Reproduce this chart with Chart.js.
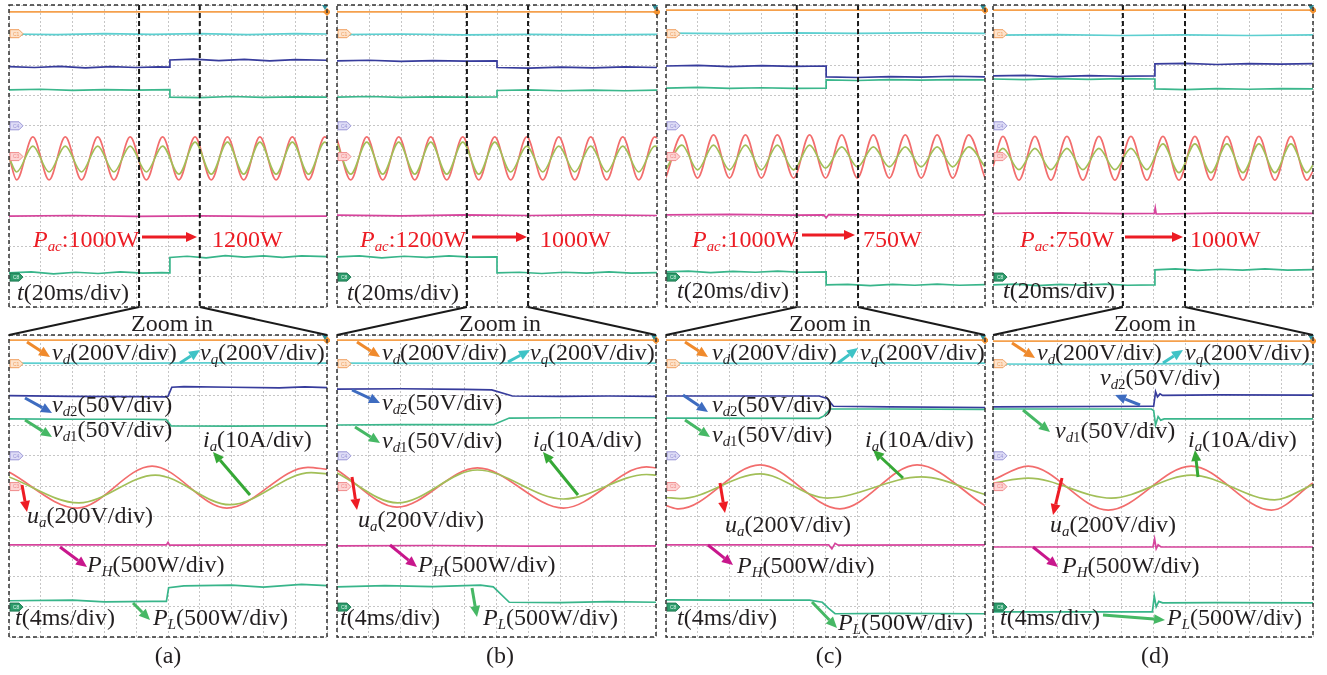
<!DOCTYPE html>
<html>
<head>
<meta charset="utf-8">
<script src="https://cdn.jsdelivr.net/npm/chart.js@4.4.1/dist/chart.umd.min.js"></script>
<style>
  html, body { margin: 0; padding: 0; background: #fff; }
  #page { position: relative; width: 1327px; height: 675px; overflow: hidden;
          font-family: "Liberation Serif", "Times New Roman", serif; color: #231f20; }
  .panel { position: absolute; }
  #overlay { position: absolute; left: 0; top: 0; pointer-events: none; }
  .lbl { position: absolute; font-size: 24px; line-height: 24px; white-space: nowrap; }
  .lbl sub { font-size: 0.62em; line-height: 0; vertical-align: -0.3em; }
  .red { color: #ec1c24; }
  .mid { transform: translateX(-50%); }
</style>
</head>
<body>
<div id="page"></div>
<script>
// ---- waveform data, x and y in scope divisions (0..10) ----
// top row, 20ms/div
const topA_vd = [[0,9.77],[10,9.77]];
const topA_vq = [[0,9.04],[1.5,9.02],[3,9.05],[4.5,9.03],[6,9.05],[7.5,9.02],[9,9.05],[10,9.04]];
const topA_vd2 = [[0,7.96],[0.8,7.93],[1.6,7.97],[2.4,7.92],[3.2,7.96],[4,7.93],[4.7,7.95],[5.06,7.94],[5.06,8.18],[5.8,8.21],[6.6,8.16],[7.4,8.2],[8.2,8.15],[9,8.19],[10,8.17]];
const topA_vd1 = [[0,7.19],[1,7.21],[2,7.17],[3,7.2],[4,7.18],[5.06,7.2],[5.06,6.95],[6,6.93],[7,6.97],[8,6.94],[9,6.96],[10,6.95]];
const topA_ua = [[0,5.0],[0.24,4.21],[0.75,5.63],[1.26,4.21],[1.77,5.63],[2.28,4.21],[2.79,5.63],[3.3,4.21],[3.81,5.63],[4.32,4.21],[4.83,5.63],[5.34,4.21],[5.85,5.63],[6.36,4.21],[6.87,5.63],[7.38,4.21],[7.89,5.63],[8.4,4.21],[8.91,5.63],[9.42,4.21],[9.93,5.63],[10,5.6]];
const topA_ia = [[0,4.95],[0.24,4.47],[0.75,5.33],[1.26,4.47],[1.77,5.33],[2.28,4.47],[2.79,5.33],[3.3,4.47],[3.81,5.33],[4.32,4.47],[4.83,5.33],[5.34,4.4],[5.85,5.46],[6.36,4.4],[6.87,5.46],[7.38,4.4],[7.89,5.46],[8.4,4.4],[8.91,5.46],[9.42,4.4],[9.93,5.46],[10,5.43]];
const topA_ph = [[0,3.01],[2,3.03],[4,3.0],[6,3.02],[8,3.0],[10,3.01]];
const topA_pl = [[0,1.13],[0.7,1.16],[1.4,1.1],[2.1,1.15],[2.8,1.11],[3.5,1.16],[4.2,1.12],[4.8,1.14],[5.06,1.13],[5.06,1.64],[5.6,1.68],[6.2,1.63],[6.8,1.7],[7.4,1.65],[8,1.69],[8.6,1.64],[9.2,1.69],[10,1.67]];

const topB_vd = [[0,9.77],[10,9.77]];
const topB_vq = [[0,9.02],[2,9.04],[4,9.01],[6,9.03],[8,9.01],[10,9.03]];
const topB_vd2 = [[0,8.15],[1,8.17],[2,8.13],[3,8.16],[4,8.14],[5,8.15],[5,7.93],[6,7.91],[7,7.94],[8,7.92],[9,7.95],[10,7.93]];
const topB_vd1 = [[0,6.95],[1,6.97],[2,6.94],[3,6.96],[4,6.95],[5,6.96],[5,7.17],[6,7.19],[7,7.16],[8,7.18],[9,7.16],[10,7.18]];
const topB_ua = [[0,5.55],[0.43,4.21],[0.93,5.63],[1.43,4.21],[1.93,5.63],[2.43,4.21],[2.93,5.63],[3.43,4.21],[3.93,5.63],[4.43,4.21],[4.93,5.63],[5.43,4.21],[5.93,5.63],[6.43,4.21],[6.93,5.63],[7.43,4.21],[7.93,5.63],[8.43,4.21],[8.93,5.63],[9.43,4.21],[9.93,5.63],[10,5.6]];
const topB_ia = [[0,5.4],[0.43,4.4],[0.93,5.46],[1.43,4.4],[1.93,5.46],[2.43,4.4],[2.93,5.46],[3.43,4.4],[3.93,5.46],[4.43,4.4],[4.93,5.46],[5.43,4.47],[5.93,5.33],[6.43,4.47],[6.93,5.33],[7.43,4.47],[7.93,5.33],[8.43,4.47],[8.93,5.33],[9.43,4.47],[9.93,5.33],[10,5.31]];
const topB_ph = [[0,3.04],[2,3.02],[4,3.05],[6,3.03],[8,3.05],[10,3.03]];
const topB_pl = [[0,1.66],[0.7,1.69],[1.4,1.63],[2.1,1.68],[2.8,1.64],[3.5,1.69],[4.2,1.65],[5,1.66],[5,1.13],[5.7,1.15],[6.4,1.11],[7.1,1.15],[7.8,1.12],[8.5,1.16],[9.2,1.12],[10,1.14]];

const topC_vd = [[0,9.83],[10,9.83]];
const topC_vq = [[0,9.07],[2,9.05],[4,9.08],[6,9.06],[8,9.08],[10,9.06]];
const topC_vd2 = [[0,7.98],[1,8.0],[2,7.96],[3,7.99],[4,7.97],[5.02,7.98],[5.02,7.62],[6,7.6],[7,7.63],[8,7.61],[9,7.64],[10,7.62]];
const topC_vd1 = [[0,7.25],[1,7.27],[2,7.24],[3,7.26],[4,7.24],[5.02,7.25],[5.02,7.52],[6,7.5],[7,7.53],[8,7.51],[9,7.53],[10,7.52]];
const topC_ua = [[0,4.3],[0.5,5.7],[0.99,4.27],[1.49,5.7],[1.99,4.27],[2.49,5.7],[2.99,4.27],[3.49,5.7],[4,4.27],[4.5,5.7],[5,4.27],[5.51,5.7],[6,4.27],[6.5,5.7],[7,4.27],[7.5,5.7],[8,4.27],[8.5,5.7],[8.99,4.27],[9.49,5.7],[10,4.27]];
const topC_ia = [[0,4.56],[0.5,5.36],[0.99,4.54],[1.49,5.36],[1.99,4.54],[2.49,5.36],[2.99,4.54],[3.49,5.36],[4,4.54],[4.5,5.36],[5,4.6],[5.51,5.3],[6,4.64],[6.5,5.3],[7,4.64],[7.5,5.3],[8,4.64],[8.5,5.3],[8.99,4.64],[9.49,5.3],[10,4.64]];
const topC_ph = [[0,3.05],[2,3.07],[4,3.04],[4.95,3.05],[5.02,2.95],[5.1,3.06],[7,3.04],[10,3.05]];
const topC_pl = [[0,1.16],[0.7,1.19],[1.4,1.14],[2.1,1.18],[2.8,1.15],[3.5,1.19],[4.2,1.15],[5.02,1.16],[5.02,0.73],[5.7,0.75],[6.4,0.71],[7.1,0.75],[7.8,0.72],[8.5,0.76],[9.2,0.72],[10,0.74]];

const topD_vd = [[0,9.83],[10,9.83]];
const topD_vq = [[0,9.0],[2,9.02],[4,8.99],[6,9.01],[8,8.99],[10,9.01]];
const topD_vd2 = [[0,7.65],[1,7.67],[2,7.63],[3,7.66],[4,7.64],[5.06,7.65],[5.06,8.05],[6,8.07],[7,8.03],[8,8.06],[9,8.04],[10,8.06]];
const topD_vd1 = [[0,7.55],[1,7.53],[2,7.56],[3,7.54],[4,7.56],[5.06,7.55],[5.06,7.22],[6,7.2],[7,7.23],[8,7.21],[9,7.23],[10,7.22]];
const topD_ua = [[0,4.65],[0.31,5.65],[0.81,4.2],[1.31,5.65],[1.81,4.2],[2.31,5.65],[2.81,4.2],[3.31,5.65],[3.81,4.2],[4.31,5.65],[4.81,4.2],[5.31,5.65],[5.81,4.2],[6.31,5.65],[6.81,4.2],[7.31,5.65],[7.81,4.2],[8.31,5.65],[8.81,4.2],[9.31,5.65],[9.81,4.2],[10,4.5]];
const topD_ia = [[0,4.8],[0.31,5.25],[0.81,4.55],[1.31,5.25],[1.81,4.55],[2.31,5.25],[2.81,4.55],[3.31,5.25],[3.81,4.55],[4.31,5.25],[4.81,4.55],[5.31,5.4],[5.81,4.45],[6.31,5.4],[6.81,4.45],[7.31,5.4],[7.81,4.45],[8.31,5.4],[8.81,4.45],[9.31,5.4],[9.81,4.45],[10,4.7]];
const topD_ph = [[0,3.1],[2,3.12],[4,3.09],[5.04,3.1],[5.07,3.28],[5.1,3.08],[7,3.11],[10,3.1]];
const topD_pl = [[0,0.73],[0.7,0.76],[1.4,0.71],[2.1,0.75],[2.8,0.72],[3.5,0.76],[4.2,0.72],[5.06,0.73],[5.06,1.23],[5.7,1.26],[6.4,1.21],[7.1,1.25],[7.8,1.22],[8.5,1.26],[9.2,1.22],[10,1.24]];

// bottom row, 4ms/div
const botA_vd = [[0,9.83],[10,9.83]];
const botA_vq = [[0,9.07],[3,9.06],[6,9.08],[10,9.07]];
const botA_vd2 = [[0,7.99],[2,7.97],[4,7.96],[4.9,7.95],[5,7.97],[5.12,8.27],[5.5,8.29],[7,8.27],[8.5,8.25],[9.3,8.28],[10,8.26]];
const botA_vd1 = [[0,7.22],[2,7.21],[4,7.21],[4.95,7.2],[5.1,6.99],[7,6.98],[8.5,6.99],[10,6.99]];
const botA_ua = [[0,5.46],[2.14,4.27],[4.5,5.66],[6.85,4.27],[9.4,5.62],[10,5.55]];
const botA_ia = [[0,5.3],[2.2,4.44],[4.6,5.36],[6.95,4.38],[9.5,5.44],[10,5.4]];
const botA_ph = [[0,3.05],[4.95,3.05],[5,3.13],[5.05,3.04],[10,3.05]];
const botA_pl = [[0,1.2],[2,1.22],[3,1.16],[4.5,1.18],[4.95,1.18],[5.02,1.63],[5.5,1.69],[7,1.72],[8,1.65],[9.2,1.74],[10,1.7]];

const botB_vd = [[0,9.83],[10,9.83]];
const botB_vq = [[0,9.07],[3,9.06],[6,9.08],[10,9.07]];
const botB_vd2 = [[0,8.21],[2,8.22],[4,8.2],[4.85,8.18],[5.5,7.98],[7,7.97],[8.5,7.98],[10,7.97]];
const botB_vd1 = [[0,7.02],[2,7.03],[4.9,7.03],[5.4,7.25],[7,7.26],[10,7.26]];
const botB_ua = [[0,5.53],[1.88,4.3],[4.4,5.6],[7.1,4.27],[9.7,5.63],[10,5.6]];
const botB_ia = [[0,5.43],[1.9,4.44],[4.4,5.53],[7.1,4.57],[9.7,5.38],[10,5.36]];
const botB_ph = [[0,3.02],[3,3.03],[6,3.01],[10,3.02]];
const botB_pl = [[0,1.66],[1.5,1.7],[3,1.67],[4.5,1.72],[4.9,1.66],[5.4,1.15],[7,1.14],[8.5,1.17],[10,1.15]];

const botC_vd = [[0,9.83],[10,9.83]];
const botC_vq = [[0,9.07],[3,9.06],[6,9.08],[10,9.07]];
const botC_vd2 = [[0,7.98],[4.8,7.98],[5.05,7.9],[5.25,7.64],[7,7.62],[10,7.6]];
const botC_vd1 = [[0,7.25],[4.8,7.24],[4.95,7.32],[5.15,7.55],[7,7.55],[10,7.54]];
const botC_ua = [[0,4.35],[0.4,4.24],[2.95,5.7],[5.45,4.24],[7.87,5.7],[10,4.35]];
const botC_ia = [[0,4.62],[0.45,4.58],[2.95,5.4],[5.05,4.6],[8,5.3],[10,4.72]];
const botC_ph = [[0,3.05],[5.1,3.05],[5.2,2.92],[5.3,3.1],[5.4,3.04],[10,3.05]];
const botC_pl = [[0,1.23],[2,1.22],[4.5,1.22],[4.9,1.15],[5.1,0.95],[5.3,0.77],[7,0.78],[10,0.77]];

const botD_vd = [[0,9.8],[10,9.8]];
const botD_vq = [[0,9.04],[3,9.03],[6,9.05],[10,9.04]];
const botD_vd2 = [[0,7.62],[4.95,7.64],[5.02,7.64],[5.08,8.12],[5.14,7.95],[5.22,8.05],[5.3,8],[7,8.02],[10,8.01]];
const botD_vd1 = [[0,7.55],[4.95,7.55],[5.02,7.5],[5.08,7.02],[5.16,7.3],[5.24,7.18],[5.35,7.22],[10,7.22]];
const botD_ua = [[0,5.2],[1.1,5.66],[3.6,4.2],[6.2,5.66],[8.7,4.2],[10,5.1]];
const botD_ia = [[0,5.1],[1.1,5.26],[3.7,4.6],[6.2,5.36],[8.8,4.54],[10,5.05]];
const botD_ph = [[0,2.98],[5,2.98],[5.05,3.25],[5.1,2.92],[5.16,3.05],[5.25,2.98],[10,2.98]];
const botD_pl = [[0,0.83],[4.98,0.83],[5.04,1.35],[5.1,1.0],[5.18,1.18],[5.3,1.13],[7,1.14],[10,1.13]];

// channel reference tags on the left edge
const tagNames = ["C1", "C4", "C3", "C8"];
const tagLevels = [9.05, 6.0, 4.98, 0.99];
// zoom window (in top-row divisions)
const zoomA = [4.09, 6.0], zoomB = [4.06, 5.97], zoomC = [4.1, 6.02], zoomD = [4.06, 6.0];

const COL = { vd: "#f5a04c", vq: "#5dcfd0", vd2: "#373c9c", vd1: "#3bb78c",
              ua: "#f26d6d", ia: "#a2bf58", ph: "#d6449c", pl: "#38b58a" };
const TAGCOL = [["#fde3cc","#f0a060"],["#dedcf6","#9a96d6"],["#fdd4d4","#f08a8a"],["#2e9c6c","#1f7a52"]];

const PAD = 3;
const page = document.getElementById("page");

const scopeDecor = {
  id: "scopeDecor",
  afterDatasetsDraw(chart, args, opts) {
    const { ctx, chartArea: a, scales: { x, y } } = chart;
    ctx.save();
    if (opts.zoom) {
      ctx.setLineDash([5, 3]);
      ctx.lineWidth = 2;
      ctx.strokeStyle = "#1a1a1a";
      opts.zoom.forEach(v => {
        const px = x.getPixelForValue(v);
        ctx.beginPath(); ctx.moveTo(px, a.top); ctx.lineTo(px, a.bottom); ctx.stroke();
      });
    }
    ctx.setLineDash([]);
    tagLevels.forEach((lv, i) => {
      const py = y.getPixelForValue(lv), l = a.left + 1;
      ctx.beginPath();
      ctx.moveTo(l, py - 4); ctx.lineTo(l + 9, py - 4); ctx.lineTo(l + 13, py);
      ctx.lineTo(l + 9, py + 4); ctx.lineTo(l, py + 4); ctx.closePath();
      ctx.fillStyle = TAGCOL[i][0]; ctx.fill();
      ctx.lineWidth = 1; ctx.strokeStyle = TAGCOL[i][1]; ctx.stroke();
      ctx.fillStyle = i === 3 ? "#d8f5e8" : TAGCOL[i][1];
      ctx.font = "5px sans-serif"; ctx.textBaseline = "middle";
      ctx.fillText(tagNames[i], l + 3, py + 0.5);
    });
    // trigger marks at the right edge
    const vy = y.getPixelForValue(opts.vdLevel);
    ctx.fillStyle = "#f39230";
    ctx.beginPath();
    ctx.moveTo(a.right, vy - 4); ctx.lineTo(a.right + 4, vy); ctx.lineTo(a.right, vy + 4); ctx.lineTo(a.right - 4, vy);
    ctx.closePath(); ctx.fill();
    ctx.fillStyle = "#2f8f9a";
    ctx.beginPath();
    ctx.moveTo(a.right - 5, a.top); ctx.lineTo(a.right + 1, a.top); ctx.lineTo(a.right - 2, a.top + 5);
    ctx.closePath(); ctx.fill();
    // dashed frame
    ctx.setLineDash([4, 3]);
    ctx.lineWidth = 1.5;
    ctx.strokeStyle = "#333";
    ctx.strokeRect(a.left, a.top, a.width, a.height);
    ctx.restore();
  }
};
Chart.register(scopeDecor);

function axis() {
  return {
    type: "linear", min: 0, max: 10,
    ticks: { display: false, stepSize: 1 },
    grid: { color: "#c6c6c6", lineWidth: 1, drawTicks: false },
    border: { display: false, dash: [2, 2] }
  };
}

function makeScope(box, traces, zoom) {
  const wrap = document.createElement("div");
  wrap.className = "panel";
  wrap.style.left = (box[0] - PAD) + "px";
  wrap.style.top = (box[1] - PAD) + "px";
  const cv = document.createElement("canvas");
  cv.width = box[2] + 2 * PAD;
  cv.height = box[3] + 2 * PAD;
  wrap.appendChild(cv);
  page.appendChild(wrap);
  new Chart(cv, {
    type: "scatter",
    data: {
      datasets: traces.map(t => ({
        data: t[0].map(p => ({ x: p[0], y: p[1] })),
        borderColor: t[1],
        borderWidth: 1.7,
        showLine: true,
        pointRadius: 0,
        tension: 0,
        cubicInterpolationMode: t[2] ? "monotone" : "default"
      }))
    },
    options: {
      responsive: false,
      animation: false,
      layout: { padding: PAD, autoPadding: false },
      plugins: {
        legend: { display: false },
        tooltip: { enabled: false },
        scopeDecor: { zoom: zoom, vdLevel: traces[0][0][0][1] }
      },
      scales: { x: axis(), y: axis() }
    }
  });
}

function traceSet(vd, vq, vd2, vd1, ua, ia, ph, pl) {
  return [[vd, COL.vd], [vq, COL.vq], [vd2, COL.vd2], [vd1, COL.vd1],
          [ia, COL.ia, true], [ua, COL.ua, true], [ph, COL.ph], [pl, COL.pl]];
}

const topBoxes = [[9,5,318,302],[337,5,320,302],[666,5,319,302],[993,5,320,302]];
const botBoxes = [[9,335,318,302],[337,335,319,302],[666,335,319,302],[993,335,320,302]];
const zooms = [zoomA, zoomB, zoomC, zoomD];

makeScope(topBoxes[0], traceSet(topA_vd, topA_vq, topA_vd2, topA_vd1, topA_ua, topA_ia, topA_ph, topA_pl), zoomA);
makeScope(topBoxes[1], traceSet(topB_vd, topB_vq, topB_vd2, topB_vd1, topB_ua, topB_ia, topB_ph, topB_pl), zoomB);
makeScope(topBoxes[2], traceSet(topC_vd, topC_vq, topC_vd2, topC_vd1, topC_ua, topC_ia, topC_ph, topC_pl), zoomC);
makeScope(topBoxes[3], traceSet(topD_vd, topD_vq, topD_vd2, topD_vd1, topD_ua, topD_ia, topD_ph, topD_pl), zoomD);
makeScope(botBoxes[0], traceSet(botA_vd, botA_vq, botA_vd2, botA_vd1, botA_ua, botA_ia, botA_ph, botA_pl), null);
makeScope(botBoxes[1], traceSet(botB_vd, botB_vq, botB_vd2, botB_vd1, botB_ua, botB_ia, botB_ph, botB_pl), null);
makeScope(botBoxes[2], traceSet(botC_vd, botC_vq, botC_vd2, botC_vd1, botC_ua, botC_ia, botC_ph, botC_pl), null);
makeScope(botBoxes[3], traceSet(botD_vd, botD_vq, botD_vd2, botD_vd1, botD_ua, botD_ia, botD_ph, botD_pl), null);

// ---- overlay: zoom connectors and pointer arrows ----
const NS = "http://www.w3.org/2000/svg";
const svg = document.createElementNS(NS, "svg");
svg.setAttribute("id", "overlay");
svg.setAttribute("width", 1327);
svg.setAttribute("height", 675);
page.appendChild(svg);

function svgEl(tag, attrs) {
  const e = document.createElementNS(NS, tag);
  for (const k in attrs) e.setAttribute(k, attrs[k]);
  svg.appendChild(e);
  return e;
}
function arrow(x1, y1, x2, y2, color, w, hl, hw) {
  const dx = x2 - x1, dy = y2 - y1, L = Math.hypot(dx, dy), ux = dx / L, uy = dy / L;
  const bx = x2 - ux * hl, by = y2 - uy * hl;
  svgEl("line", { x1: x1, y1: y1, x2: bx, y2: by, stroke: color, "stroke-width": w });
  svgEl("polygon", { fill: color, points: [x2, y2, bx - uy * hw / 2, by + ux * hw / 2, bx + uy * hw / 2, by - ux * hw / 2].join(" ") });
}

topBoxes.forEach((b, i) => {
  const bb = botBoxes[i];
  zooms[i].forEach((z, j) => {
    const px = b[0] + z * b[2] / 10;
    const qx = j === 0 ? bb[0] : bb[0] + bb[2];
    svgEl("line", { x1: px, y1: b[1] + b[3], x2: qx, y2: bb[1], stroke: "#1a1a1a", "stroke-width": 2 });
  });
});

const AC = { vd: "#f08a2c", vq: "#3fc3c6", vd2: "#3e6cc0", vd1: "#46b865", ia: "#36a836",
             ua: "#ee1c24", ph: "#c8178c", pl: "#46b865" };
const pointers = [
  [142,237,197,237,"#ec1c24"], [472,237,527,237,"#ec1c24"], [802,235,855,235,"#ec1c24"], [1125,237,1183,237,"#ec1c24"],
  [27,342,50,357,AC.vd], [180,363,200,350,AC.vq], [25,398,52,413,AC.vd2], [25,420,52,437,AC.vd1],
  [250,495,213,452,AC.ia], [22,485,27,512,AC.ua], [60,547,87,567,AC.ph], [133,603,150,620,AC.pl],
  [357,342,380,357,AC.vd], [508,362,530,350,AC.vq], [352,390,380,403,AC.vd2], [355,427,380,443,AC.vd1],
  [578,495,543,452,AC.ia], [352,477,357,510,AC.ua], [390,545,417,567,AC.ph], [472,588,477,617,AC.pl],
  [685,342,708,357,AC.vd], [838,363,858,348,AC.vq], [683,395,708,412,AC.vd2], [685,420,710,437,AC.vd1],
  [903,478,873,450,AC.ia], [720,483,725,513,AC.ua], [708,545,733,565,AC.ph], [812,602,837,628,AC.pl],
  [1012,343,1035,358,AC.vd], [1163,363,1183,350,AC.vq], [1140,405,1115,395,AC.vd2], [1023,410,1050,432,AC.vd1],
  [1198,477,1195,450,AC.ia], [1062,478,1053,515,AC.ua], [1033,547,1058,567,AC.ph], [1103,615,1165,620,AC.pl]
];
pointers.forEach(p => arrow(p[0], p[1], p[2], p[3], p[4], 3, 11, 10));

// ---- text labels (x, baseline y, html, class) ----
const pac = v => "<i>P</i><sub><i>ac</i></sub>:" + v;
const T20 = "<i>t</i>(20ms/div)", T4 = "<i>t</i>(4ms/div)";
const VD = "<i>v</i><sub><i>d</i></sub>(200V/div)", VQ = "<i>v</i><sub><i>q</i></sub>(200V/div)";
const VD2 = "<i>v</i><sub><i>d</i>2</sub>(50V/div)", VD1 = "<i>v</i><sub><i>d</i>1</sub>(50V/div)";
const IA = "<i>i</i><sub><i>a</i></sub>(10A/div)", UA = "<i>u</i><sub><i>a</i></sub>(200V/div)";
const PH = "<i>P</i><sub><i>H</i></sub>(500W/div)", PL = "<i>P</i><sub><i>L</i></sub>(500W/div)";
const labels = [
  [33,247,pac("1000W"),"red"], [212,247,"1200W","red"], [17,300,T20,""],
  [360,247,pac("1200W"),"red"], [540,247,"1000W","red"], [347,300,T20,""],
  [692,247,pac("1000W"),"red"], [863,247,"750W","red"], [677,298,T20,""],
  [1020,247,pac("750W"),"red"], [1190,247,"1000W","red"], [1003,298,T20,""],
  [172,331,"Zoom in","mid"], [500,331,"Zoom in","mid"], [830,331,"Zoom in","mid"], [1155,331,"Zoom in","mid"],
  [52,360,VD,""], [200,360,VQ,""], [52,412,VD2,""], [52,437,VD1,""], [203,447,IA,""], [27,523,UA,""], [87,572,PH,""], [153,625,PL,""], [15,625,T4,""],
  [382,360,VD,""], [530,360,VQ,""], [382,410,VD2,""], [382,448,VD1,""], [533,447,IA,""], [358,527,UA,""], [418,572,PH,""], [483,625,PL,""], [340,625,T4,""],
  [712,360,VD,""], [860,360,VQ,""], [712,412,VD2,""], [712,442,VD1,""], [865,447,IA,""], [725,532,UA,""], [737,573,PH,""], [838,630,PL,""], [677,625,T4,""],
  [1037,360,VD,""], [1185,360,VQ,""], [1100,385,VD2,""], [1055,438,VD1,""], [1188,447,IA,""], [1050,532,UA,""], [1062,573,PH,""], [1167,625,PL,""], [1000,625,T4,""],
  [168,663,"(a)","mid"], [500,663,"(b)","mid"], [829,663,"(c)","mid"], [1155,663,"(d)","mid"]
];
labels.forEach(l => {
  const d = document.createElement("div");
  d.className = "lbl " + l[3];
  d.style.left = l[0] + "px";
  d.style.top = (l[1] - 20) + "px";
  d.innerHTML = l[2];
  page.appendChild(d);
});
</script>
</body>
</html>
